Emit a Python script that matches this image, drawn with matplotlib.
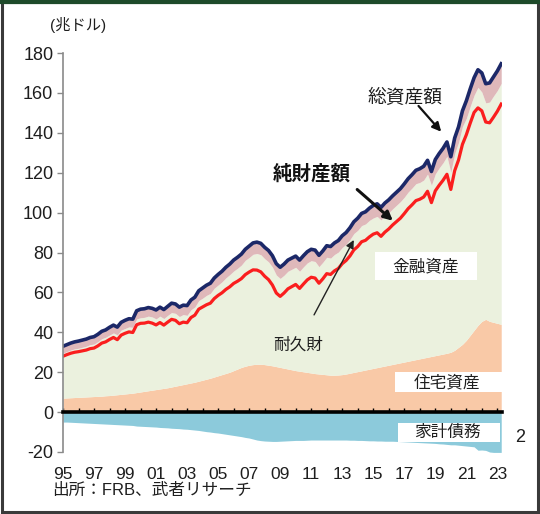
import numpy as np
import matplotlib
matplotlib.use('Agg')
import matplotlib.pyplot as plt
from matplotlib.patches import Rectangle
from matplotlib.lines import Line2D

plt.rcParams['font.family'] = ['Liberation Sans', 'Noto Sans CJK JP', 'DejaVu Sans']

start_year = 1995  # first quarter 1995Q1, quarterly data

# 総資産額 (navy line), 兆ドル
total_assets = [
    33.0, 33.8, 34.6, 35.2,
    35.6, 36.1, 36.6, 37.4,
    37.8, 39.0, 40.5, 41.2,
    42.5, 43.6, 42.6, 45.0,
    46.0, 46.8, 46.6, 50.8,
    51.6, 51.8, 52.4, 52.0,
    51.2, 52.6, 51.4, 53.0,
    54.6, 54.2, 52.6, 53.6,
    53.4, 56.2, 57.6, 60.8,
    62.2, 63.6, 64.6, 67.2,
    69.0, 70.6, 72.6, 74.2,
    76.2, 77.6, 79.2, 81.6,
    83.2, 84.8, 85.2, 84.6,
    82.6, 81.0, 78.4, 74.4,
    72.6, 74.2, 76.2, 77.2,
    78.2, 76.2, 78.4, 80.4,
    81.6, 81.2, 78.6, 80.8,
    83.4, 83.0, 84.8, 86.0,
    88.4, 90.0, 92.4, 95.4,
    97.2, 99.6, 100.4, 102.2,
    103.6, 104.4, 102.6, 104.8,
    106.4, 108.4, 110.2, 112.0,
    114.4, 117.0, 119.0, 121.2,
    122.0, 123.2, 126.2, 120.6,
    126.6, 129.6, 132.2, 135.4,
    128.0, 137.4, 143.0, 151.0,
    156.0, 162.0, 167.6, 171.6,
    170.0, 164.6, 165.0, 168.0,
    171.0, 174.6,
]

# 純財産額 (red line)
net_worth = [
    28.0, 28.8, 29.5, 30.0,
    30.3, 30.7, 31.1, 31.8,
    32.1, 33.2, 34.6, 35.2,
    36.4, 37.4, 36.3, 38.6,
    39.5, 40.2, 39.9, 43.8,
    44.5, 44.6, 45.1, 44.6,
    43.7, 44.9, 43.6, 45.1,
    46.5, 46.0, 44.3, 45.1,
    44.8, 47.4, 48.6, 51.6,
    52.7, 53.8, 54.6, 56.9,
    58.5, 59.8, 61.5, 62.8,
    64.5, 65.6, 66.9, 68.9,
    70.2, 71.3, 71.2, 70.3,
    68.1, 66.4, 63.7, 59.7,
    58.0, 59.7, 61.8, 62.9,
    64.0, 62.0, 64.2, 66.3,
    67.6, 67.2, 64.6, 66.8,
    69.4, 69.0, 70.8, 72.0,
    74.4, 76.0, 78.3, 81.3,
    83.0, 85.4, 86.1, 87.8,
    89.2, 89.9, 88.1, 90.2,
    91.8, 93.8, 95.5, 97.2,
    99.5, 102.0, 103.9, 106.0,
    106.7, 107.8, 110.7, 105.0,
    110.9, 113.7, 116.2, 119.2,
    111.6, 121.0, 126.4, 134.2,
    139.0, 144.8, 150.2, 152.5,
    151.0, 145.4, 145.0, 147.8,
    150.8, 154.4,
]

# 住宅資産 (peach area)
real_estate = [
    7.0, 7.1, 7.2, 7.3,
    7.4, 7.5, 7.6, 7.7,
    7.8, 7.9, 8.0, 8.2,
    8.3, 8.5, 8.7, 8.9,
    9.1, 9.3, 9.5, 9.8,
    10.1, 10.4, 10.7, 11.0,
    11.3, 11.6, 11.9, 12.2,
    12.6, 13.0, 13.4, 13.8,
    14.2, 14.6, 15.0, 15.5,
    16.0, 16.5, 17.0, 17.6,
    18.2, 18.8, 19.4, 20.0,
    20.8, 21.6, 22.4, 23.0,
    23.5, 23.8, 24.0, 24.0,
    23.8, 23.5, 23.2, 22.8,
    22.4, 22.0, 21.6, 21.2,
    20.8, 20.5, 20.2, 19.9,
    19.6, 19.3, 19.1, 18.9,
    18.7, 18.5, 18.5, 18.6,
    18.8, 19.1, 19.5, 19.9,
    20.3, 20.7, 21.1, 21.5,
    21.9, 22.3, 22.7, 23.1,
    23.5, 23.9, 24.3, 24.7,
    25.1, 25.5, 25.9, 26.3,
    26.7, 27.1, 27.5, 27.9,
    28.3, 28.7, 29.1, 29.5,
    30.0, 31.0, 32.5, 34.0,
    36.0, 38.5, 41.0, 43.5,
    45.5, 46.5, 45.5, 45.0,
    44.5, 44.0,
]

# 耐久財 (pink band), annual values 1995..2023
durables_annual = [3.5, 3.6, 3.7, 3.9, 4.1, 4.3, 4.5, 4.7, 4.9, 5.1,
                   5.3, 5.5, 5.7, 5.7, 5.6, 5.6, 5.7, 5.8, 5.9, 6.1,
                   6.3, 6.5, 6.7, 6.9, 7.2, 7.8, 8.8, 9.6, 9.8]

year_ticks = list(range(1995, 2024, 2))
year_labels = [f"{y % 100:02d}" for y in year_ticks]
y_ticks = list(range(-20, 181, 20))

# ---- derived series ----
n = len(total_assets)
x = start_year + np.arange(n) / 4.0
total = np.array(total_assets)
net = np.array(net_worth)
house = np.array(real_estate)
dur = np.repeat(durables_annual, 4)[:n]
debt = total - net
fin_top = total - dur

W, H = 540, 514
fig = plt.figure(figsize=(W / 100, H / 100), dpi=100)
ax = fig.add_axes([63 / W, 62 / H, 439 / W, 399 / H])

c_blue = '#8ccadb'
c_peach = '#f9c9a7'
c_green = '#ebf1de'
c_pink = '#dfb8ba'
c_navy = '#1c2868'
c_red = '#fa1e1e'

ax.fill_between(x, -debt, 0, color=c_blue, lw=0)
ax.fill_between(x, 0, house, color=c_peach, lw=0)
ax.fill_between(x, house, fin_top, color=c_green, lw=0)
ax.fill_between(x, fin_top, total, color=c_pink, lw=0)
ax.plot(x, net, color=c_red, lw=2.3, solid_joinstyle='round')
ax.plot(x, total, color=c_navy, lw=2.6, solid_joinstyle='round')

ax.set_xlim(1995, 2023.3)
ax.set_ylim(-20, 180)

for s in ['top', 'right']:
    ax.spines[s].set_visible(False)
ax.spines['left'].set_color('#8a8a8a')
ax.spines['left'].set_linewidth(1.2)
ax.spines['bottom'].set_position(('data', 0))
ax.spines['bottom'].set_color('black')
ax.spines['bottom'].set_linewidth(2.6)
ax.spines['bottom'].set_zorder(5)

ax.set_yticks(y_ticks)
ax.set_yticklabels([str(v) for v in y_ticks])
ax.tick_params(axis='y', direction='out', length=4, width=1, color='#8a8a8a',
               labelsize=13, labelcolor='#1e1e1e', pad=3)
ax.set_xticks(list(range(1995, 2024)))
ax.tick_params(axis='x', direction='in', length=3, width=1, color='black',
               labelbottom=False)

sec = ax.secondary_xaxis(0)
sec.set_xticks(year_ticks)
sec.set_xticklabels(year_labels)
sec.tick_params(length=0, labelsize=12.5, labelcolor='#1e1e1e', pad=11)
sec.spines['bottom'].set_visible(False)

# labels and arrows
ax.text(2017.05, 157.5, '総資産額', ha='center', va='center', fontsize=13.5, color='#1e1e1e')
ax.annotate('', xy=(2019.5, 139.5), xytext=(2017.8, 154.5),
            arrowprops=dict(arrowstyle='-|>', color='#111111', lw=1.6,
                            mutation_scale=13))

ax.text(2011.05, 119.5, '純財産額', ha='center', va='center', fontsize=14,
        fontweight='bold', color='#111111')
ax.annotate('', xy=(2016.4, 95), xytext=(2013.83, 112.5),
            arrowprops=dict(arrowstyle='-|>', color='#111111', lw=2.2,
                            mutation_scale=13))

ax.text(2010.15, 33.5, '耐久財', ha='center', va='center', fontsize=12, color='#1e1e1e')
ax.annotate('', xy=(2013.83, 87.5), xytext=(2011.1, 47.5),
            arrowprops=dict(arrowstyle='-|>', color='#222222', lw=1.0,
                            mutation_scale=12))

def boxed(x0, x1, y0, y1, tx, ty, s):
    ax.add_patch(Rectangle((x0, y0), x1 - x0, y1 - y0, facecolor='white',
                           edgecolor='none', zorder=4))
    ax.text(tx, ty, s, ha='center', va='center', fontsize=12,
            color='#1e1e1e', zorder=6)

boxed(2015.1, 2021.7, 66, 80, 2018.4, 73, '金融資産')
boxed(2016.4, 2023.3, 10, 20, 2019.76, 15, '住宅資産')
boxed(2016.6, 2023.2, -15, -5.5, 2019.8, -10.3, '家計債務')

fig.text(50 / W, 1 - 25 / H, '(兆ドル)', ha='left', va='center', fontsize=11, color='#1e1e1e')
fig.text(52 / W, 1 - 490 / H, '出所：FRB、武者リサーチ', ha='left', va='center',
         fontsize=12, color='#1e1e1e')
fig.text(520 / W, 1 - 437 / H, '2', ha='center', va='center', fontsize=13, color='#1e1e1e')

# frame
fig.patches.append(Rectangle((0.003, 0.004), 0.993, 0.992, transform=fig.transFigure,
                             fill=False, edgecolor='#3a3a3a', lw=2.2))
fig.lines.append(Line2D([0, 1], [0.996, 0.996], transform=fig.transFigure,
                        color='#1e4a2a', lw=3))

fig.savefig('out.png', dpi=100)
